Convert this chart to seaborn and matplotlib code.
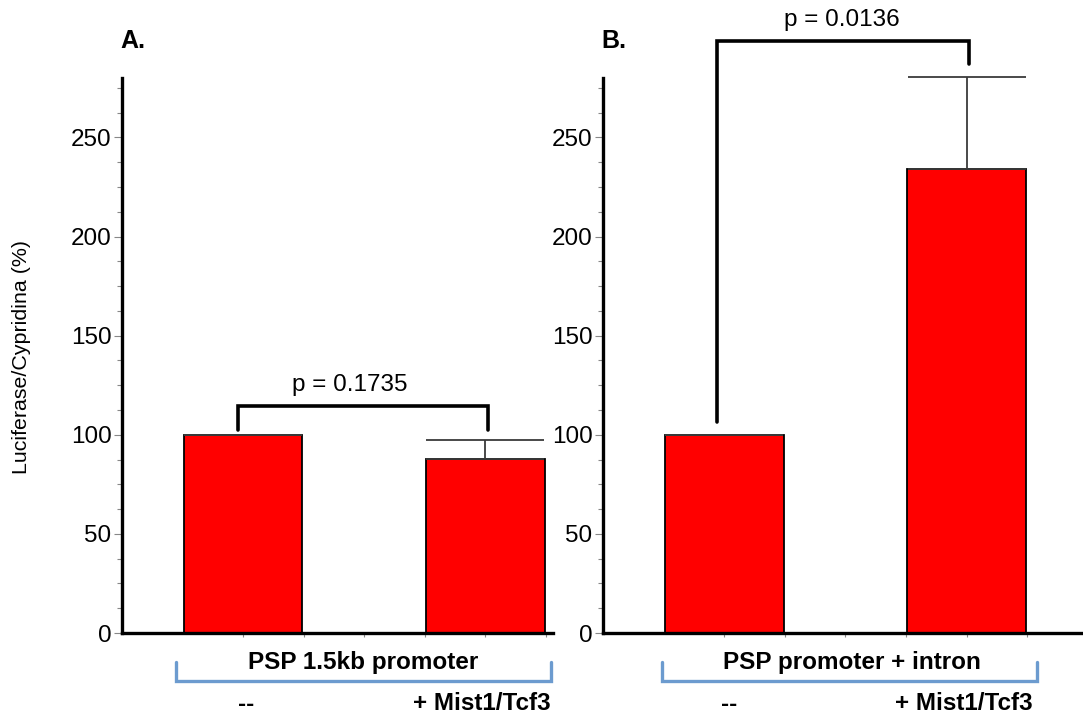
import matplotlib.pyplot as plt
import matplotlib.ticker as mticker
import seaborn as sns
import pandas as pd

# values
conditions = ['--', '+ Mist1/Tcf3']
means_a = [100, 88]
err_a = [0, 9.2]
means_b = [100, 234]
err_b = [0, 46.5]
p_a = 'p = 0.1735'
p_b = 'p = 0.0136'
construct_a = 'PSP 1.5kb promoter'
construct_b = 'PSP promoter + intron'

sns.set_theme(style='white')
plt.rcParams['font.family'] = ['Liberation Sans', 'DejaVu Sans']
plt.rcParams['text.color'] = 'black'
plt.rcParams['ytick.labelcolor'] = 'black'

W, H = 1083, 714
fig = plt.figure(figsize=(W / 100, H / 100), dpi=100)

FS = 17.5


def px(x, y):
    """ pixel position in the figure -> figure fraction """
    return x / W, 1 - y / H


def draw_panel(ax, means, errs, xmax):
    df = pd.DataFrame({'cond': conditions, 'val': means})
    sns.barplot(data=df, x='cond', y='val', color='#ff0000', saturation=1,
                width=0.49, edgecolor='black', linewidth=1.3, errorbar=None, ax=ax)
    # upper error bars only, cap as wide as the bar
    eb = ax.errorbar([0, 1], means, yerr=[[0, 0], errs], fmt='none', ecolor='#3a3a3a',
                     elinewidth=1.3, capsize=42.5, capthick=1.3, zorder=1)
    for art in eb.lines[1] + eb.lines[2]:
        art.set_clip_on(False)
    ax.set_xlim(-0.5, xmax)
    ax.set_ylim(0, 280)
    ax.set_xlabel('')
    ax.set_ylabel('')
    sns.despine(ax=ax)
    for s in ['left', 'bottom']:
        ax.spines[s].set_linewidth(2.4)
        ax.spines[s].set_color('black')
    ax.set_yticks([0, 50, 100, 150, 200, 250])
    ax.yaxis.set_minor_locator(mticker.MultipleLocator(12.5))
    ax.set_xticks([0, 0.25, 0.5, 0.75, 1, 1.25])
    ax.set_xticklabels([])
    ax.tick_params(axis='y', which='major', left=True, length=6, width=0.8, color='#888888',
                   labelsize=FS, pad=1.5, labelcolor='black')
    ax.tick_params(axis='y', which='minor', left=True, length=3.5, width=0.8, color='#888888')
    ax.tick_params(axis='x', which='major', bottom=True, length=3, width=0.8, color='#888888')


ax_a = fig.add_axes([122 / W, 1 - 633 / H, (553 - 122) / W, (633 - 78) / H])
ax_b = fig.add_axes([603 / W, 1 - 633 / H, (1083 - 603) / W, (633 - 78) / H])
draw_panel(ax_a, means_a, err_a, 1.28)
draw_panel(ax_b, means_b, err_b, 1.48)

# significance brackets
ax_a.plot([-0.02, -0.02, 1.01, 1.01], [102.5, 114.5, 114.5, 102.5], color='black',
          lw=2.6, solid_joinstyle='miter', clip_on=False)
ax_a.text(0.44, 125, p_a, ha='center', va='center', fontsize=FS)
ax_b.plot([-0.03, -0.03, 1.01, 1.01], [106.5, 298.5, 298.5, 287], color='black',
          lw=2.6, solid_joinstyle='miter', clip_on=False)
ax_b.text(0.485, 309.5, p_b, ha='center', va='center', fontsize=FS)

# panel letters and y label
fig.text(*px(120, 41), 'A.', ha='left', va='center', fontsize=18, fontweight='bold')
fig.text(*px(601, 41), 'B.', ha='left', va='center', fontsize=18, fontweight='bold')
fig.text(*px(22, 357), 'Luciferase/Cypridina (%)', rotation=90, ha='center', va='center',
         fontsize=15.4)

# blue construct brackets with labels under the axes
for (x0, x1, label, xmid, xdash, xplus) in [
        (176, 551, construct_a, 363, 246, 482),
        (662, 1037, construct_b, 852, 729, 964)]:
    xs = [x0 / W, x0 / W, x1 / W, x1 / W]
    ys = [1 - 662 / H, 1 - 681 / H, 1 - 681 / H, 1 - 662 / H]
    fig.add_artist(plt.Line2D(xs, ys, color='#6c9bcf', lw=2.4, solid_joinstyle='miter'))
    fig.text(*px(xmid, 662), label, ha='center', va='center', fontsize=FS, fontweight='bold')
    fig.text(*px(xdash, 704), conditions[0], ha='center', va='center', fontsize=FS,
             fontweight='bold')
    fig.text(*px(xplus, 703), conditions[1], ha='center', va='center', fontsize=FS,
             fontweight='bold')

fig.savefig('out.png', dpi=100)
